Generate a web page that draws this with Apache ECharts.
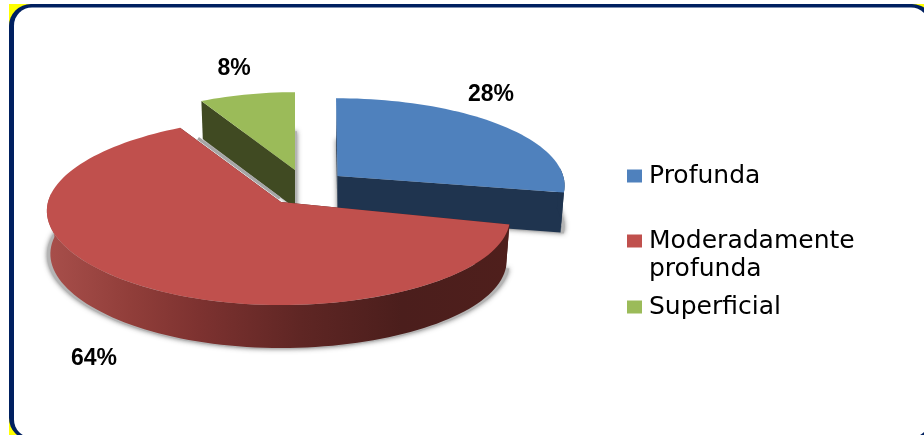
<!DOCTYPE html>
<html>
<head>
<meta charset="utf-8">
<style>html,body{margin:0;padding:0;background:#fff}#chart{width:924px;height:435px}</style>
<script src="https://cdn.jsdelivr.net/npm/echarts@6/dist/echarts.min.js"></script>
</head>
<body>
<div id="chart"></div>
<script>
const categories = ['Profunda', 'Moderadamente profunda', 'Superficial'];
const values = [28, 64, 8];
const topColors = ['#4f81bd', '#c0504d', '#9bbb59'];
const sideColors = ['#1f344f', '#4f1f1c', '#404a22'];

const total = values.reduce((a, b) => a + b, 0);
const starts = values.map((_, i) => values.slice(0, i).reduce((a, b) => a + b, 0) / total * 360);
const RAD = Math.PI / 180;
const R = 228, K = 0.405, P = 0.104;

// per-slice placement of the exploded wedge on the page
const placing = [
  { ax: 337.5, ay: 176, sx: 0.99, sy: 0.93, skew: 0.0065, depth: 40, bulge: 0, drop: 0, lab: [491, 95] },
  { ax: 281, ay: 202, sx: 1, sy: 1, skew: 0, depth: 43, bulge: 5, drop: 5, lab: [94, 359] },
  { ax: 295, ay: 170, sx: 0.93, sy: 0.93, skew: 0, depth: 38, bulge: 0, drop: 0, lab: [234, 69] }
];

function project(p, deg, frac) {
  const X = Math.sin(deg * RAD) * frac, Y = -Math.cos(deg * RAD) * frac;
  const s = 1 / (1 - P * Y);
  const left = X < 0 ? Math.pow(-X, 4) : 0, right = X > 0 ? Math.pow(X, 3) : 0;
  return [
    p.ax + (R * X * s) * p.sx + p.skew * Y * R - p.bulge * left,
    p.ay + (R * K * Y * s) * p.sy + p.drop * right
  ];
}
function arc(p, a, b) {
  const n = Math.max(2, Math.ceil((b - a) / 2)), pts = [];
  for (let i = 0; i <= n; i++) pts.push(project(p, a + (b - a) * i / n, 1));
  return pts;
}
function shifted(pts, d) { return pts.map(q => [q[0], q[1] + d]); }
// the lower rim sits a little narrower than the upper one (perspective)
function lowered(p, pts, d) { return pts.map(q => [p.ax + (q[0] - p.ax) * 0.985, q[1] + d]); }

const redRim = new echarts.graphic.LinearGradient(47, 0, 508, 0, [
  { offset: 0, color: '#a84f4b' }, { offset: 0.18, color: '#913e3a' },
  { offset: 0.33, color: '#7d3230' }, { offset: 0.55, color: '#5f2624' },
  { offset: 0.77, color: '#4b1e1c' }, { offset: 1, color: '#4f1f1c' }
], true);

function makeRender(i) {
  return function (params, api) {
    const v = api.value(0);
    const p = placing[i];
    const a = starts[i], b = a + v / total * 360;
    const apex = [p.ax, p.ay];
    const rimPts = arc(p, a, b);
    const top = [apex].concat(rimPts);
    const d = p.depth;
    const side = sideColors[i];
    const children = [];
    // soft shadow under the wedge
    children.push({
      type: 'polygon', shape: { points: shifted(top, d).map(q => [q[0] + (i === 2 ? 2 : 0), q[1] + 1]) },
      style: { fill: '#b4b4b4', shadowBlur: 5, shadowColor: 'rgba(70,70,70,0.7)' }
    });
    // cut faces
    [a, b].forEach(t => {
      const e = project(p, t, 1);
      const lo = lowered(p, [e, apex], d);
      children.push({
        type: 'polygon',
        shape: { points: [apex, e, lo[0], lo[1]] },
        style: { fill: side }
      });
    });
    // outer rim (front half only)
    const r0 = Math.max(a, 85), r1 = Math.min(b, 275);
    if (r1 > r0) {
      const pts = arc(p, r0, r1);
      children.push({
        type: 'polygon',
        shape: { points: pts.concat(lowered(p, pts, d).reverse()) },
        style: { fill: i === 1 ? redRim : side }
      });
    }
    // thin shadow the large wedge throws on the wedge behind it
    if (i === 1) {
      const q0 = project(p, b, 0.02), q1 = project(p, b, 0.82);
      children.push({
        type: 'line',
        shape: { x1: q0[0] + 1, y1: q0[1] - 2, x2: q1[0] + 1, y2: q1[1] - 2 },
        style: { stroke: '#a6a6a6', lineWidth: 3 }
      });
    }
    // top surface
    children.push({ type: 'polygon', shape: { points: top }, style: { fill: topColors[i] } });
    // value label
    children.push({
      type: 'text',
      style: {
        text: v + '%', x: p.lab[0], y: p.lab[1], align: 'center', verticalAlign: 'middle',
        font: 'bold 23px "Liberation Sans", Arial, sans-serif', fill: '#000'
      }
    });
    return { type: 'group', children };
  };
}

const legendTops = [162, 199, 293];
const legendFont = { fontFamily: 'DejaVu Sans', fontSize: 25, color: '#000', lineHeight: 28 };

const chart = echarts.init(document.getElementById('chart'), null, { renderer: 'canvas' });
chart.setOption({
  animation: false,
  backgroundColor: '#fff',
  graphic: [
    { type: 'rect', z: -3, shape: { x: 9, y: 4, width: 925, height: 436 }, style: { fill: '#ffff00' } },
    { type: 'rect', z: -2, shape: { x: 9, y: 4, width: 925, height: 436, r: 22 }, style: { fill: '#002060' } },
    { type: 'rect', z: -1, shape: { x: 14, y: 7.5, width: 915, height: 430, r: 18 }, style: { fill: '#fff' } }
  ],
  legend: categories.map((name, i) => ({
    data: [{ name, icon: 'rect', itemStyle: { color: topColors[i] } }],
    orient: 'vertical', left: 627, top: legendTops[i], padding: 0,
    itemWidth: 15, itemHeight: 13, selectedMode: false,
    formatter: n => n.includes(' ') ? '\n' + n.replace(' ', '\n') : n,
    textStyle: Object.assign({}, legendFont, { padding: [0, 0, 0, 2] })
  })),
  series: categories.map((name, i) => ({
    type: 'custom', name, coordinateSystem: 'none', z: i === 1 ? 3 : 2, silent: true,
    itemStyle: { color: topColors[i] },
    data: [[values[i]]],
    renderItem: makeRender(i)
  }))
});
</script>
</body>
</html>
